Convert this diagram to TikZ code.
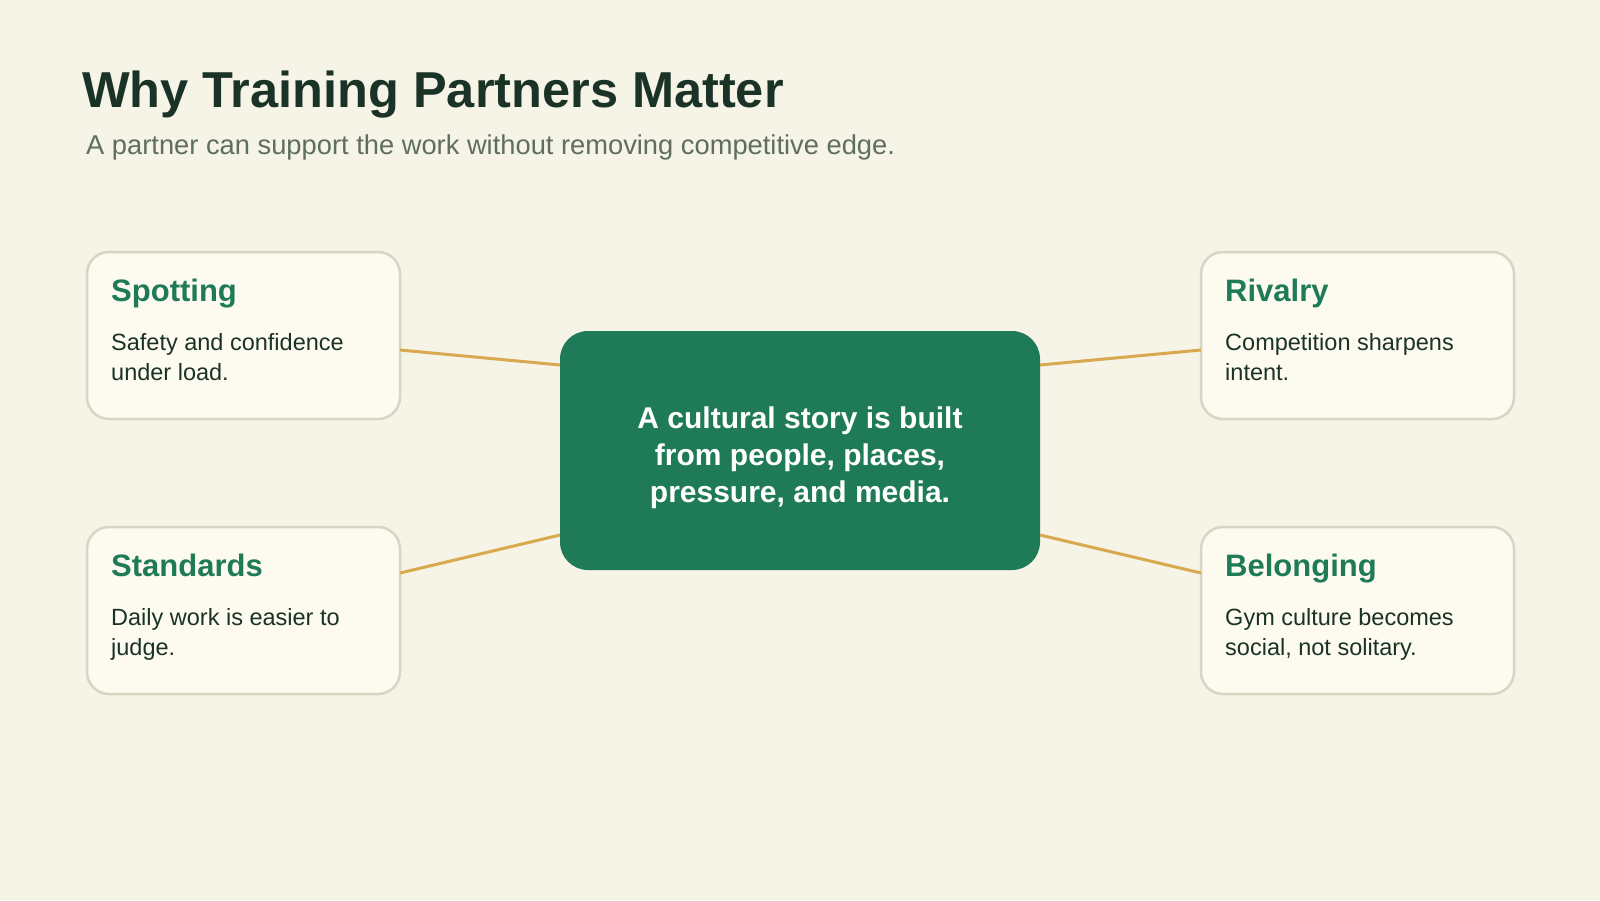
\documentclass[tikz,border=0pt]{standalone}
\usepackage{fontspec}
\setmainfont{Liberation Sans}
\definecolor{bg}{HTML}{F6F3E7}
\definecolor{card}{HTML}{FDFAF0}
\definecolor{cardline}{HTML}{D3D8C4}
\definecolor{dgreen}{HTML}{1F7B57}
\definecolor{dark}{HTML}{1B3326}
\definecolor{sub}{HTML}{5E6E60}
\definecolor{gold}{HTML}{D9A94F}
\begin{document}
\begin{tikzpicture}[x=1pt,y=-1pt,
  card/.style={draw=cardline,line width=2.5pt,fill=card,rounded corners=22pt},
  head/.style={anchor=base west,inner sep=0pt,text=dgreen,font=\fontsize{31}{36}\selectfont\bfseries},
  body/.style={anchor=base west,inner sep=0pt,text=dark,align=left,font=\fontsize{23.5}{30}\selectfont},
  link/.style={draw=gold,line width=3pt}]
\fill[bg] (0,0) rectangle (1600,900);
\useasboundingbox (0,0) rectangle (1600,900);
\node[anchor=base west,inner sep=0pt,text=dark,font=\fontsize{50.5}{60}\selectfont\bfseries] (title) at (82,107) {Why Training Partners Matter};
\node[anchor=base west,inner sep=0pt,text=sub,font=\fontsize{27.3}{30}\selectfont] (subtitle) at (86,154) {A partner can support the work without removing competitive edge.};
\node[card,minimum width=480pt,minimum height=239pt,fill=dgreen,draw=none,rounded corners=28pt] (c) at (800,450.5) {};
\node[text=white,align=center,font=\fontsize{30}{37}\selectfont\bfseries] (ct) at (800,458) {A cultural story is built\\from people, places,\\pressure, and media.};
\foreach \n/\x/\y in {a/87/252,b/1201/252,d/87/527,e/1201/527}{
  \draw[card] (\x,\y) rectangle ++(313,167);
  \coordinate (\n) at (\x,\y);}
\node[head] (h1) at ([shift={(24,49)}]a) {Spotting};
\node[body] (t1) at ([shift={(24,128)}]a) {Safety and confidence\\under load.};
\node[head] (h2) at ([shift={(24,49)}]b) {Rivalry};
\node[body] (t2) at ([shift={(24,128)}]b) {Competition sharpens\\intent.};
\node[head] (h3) at ([shift={(24,49)}]d) {Standards};
\node[body] (t3) at ([shift={(24,128)}]d) {Daily work is easier to\\judge.};
\node[head] (h4) at ([shift={(24,49)}]e) {Belonging};
\node[body] (t4) at ([shift={(24,128)}]e) {Gym culture becomes\\social, not solitary.};
\draw[link] ([shift={(313,98)}]a) -- (560,365);
\draw[link] ([shift={(0,98)}]b) -- (1040,365);
\draw[link] ([shift={(313,46)}]d) -- (560,535);
\draw[link] ([shift={(0,46)}]e) -- (1040,535);
\end{tikzpicture}
\end{document}
